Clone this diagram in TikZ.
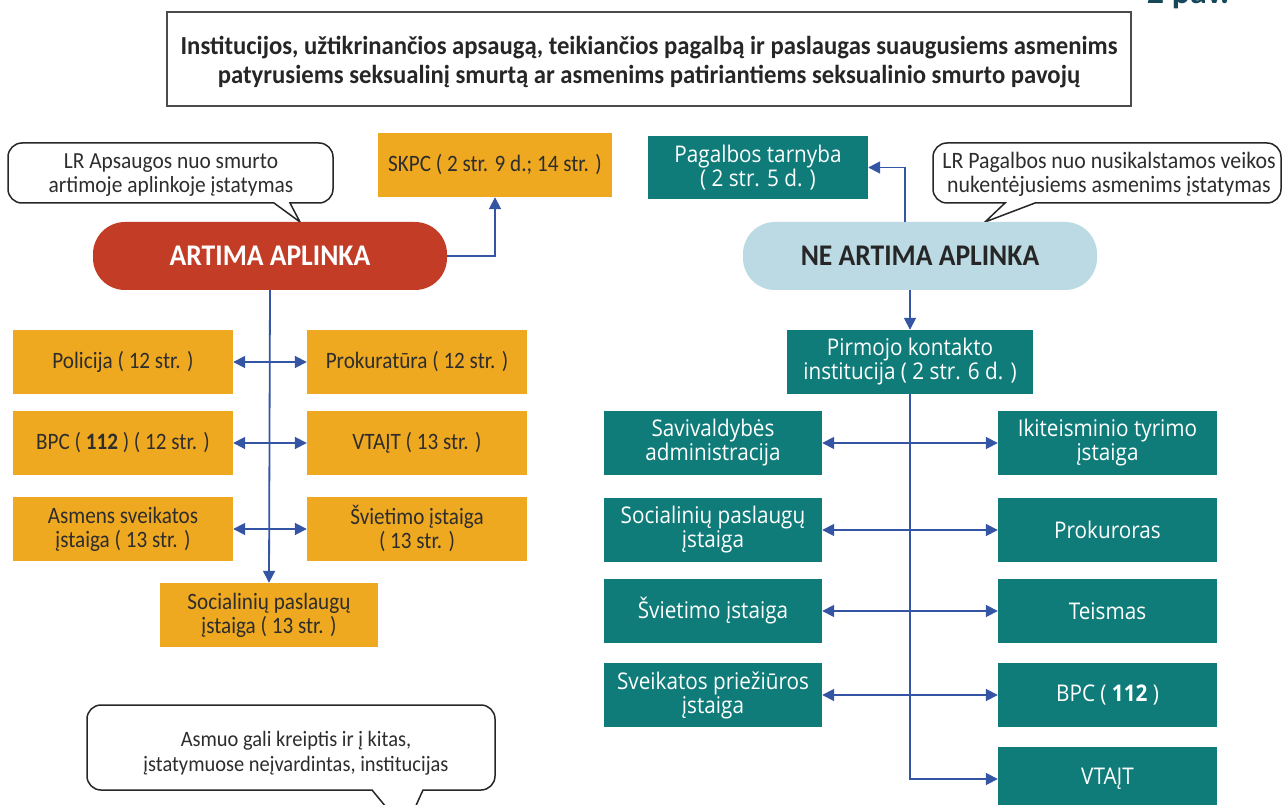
\documentclass[tikz,border=0pt]{standalone}
\usepackage{fontspec}
\setmainfont{Carlito}
\newfontfamily\tealfont[FakeStretch=0.9]{Open Sans}
\newfontfamily\orfont[FakeStretch=0.9]{Carlito}
\newfontfamily\calfont[FakeStretch=0.93]{Carlito}
\newfontfamily\pillfont[FakeStretch=0.92]{Carlito}
\newfontfamily\titlefont[FakeStretch=0.95]{Carlito}
\usetikzlibrary{arrows.meta}
\definecolor{orangeC}{RGB}{239,169,32}
\definecolor{tealC}{RGB}{16,124,121}
\definecolor{redC}{RGB}{195,61,38}
\definecolor{lblueC}{RGB}{187,218,228}
\definecolor{arrowC}{RGB}{52,84,164}
\definecolor{textdark}{RGB}{45,45,45}
\definecolor{titleC}{RGB}{22,72,90}
\tikzset{
  ob/.style={fill=orangeC, text=textdark, minimum height=64pt, inner sep=0pt, align=center, font=\orfont\fontsize{23.5}{24}\selectfont},
  tb/.style={fill=tealC, text=white, minimum height=64pt, inner sep=0pt, align=center, font=\tealfont\fontsize{23}{24}\selectfont},
  pill/.style={minimum width=354pt, minimum height=68pt, rounded corners=32pt, inner sep=0pt, font=\pillfont\bfseries\fontsize{30}{32}\selectfont},
  conn/.style={draw=arrowC, line width=1.8pt},
  tip/.style={-{Triangle[length=12pt,width=12pt]}},
  dtip/.style={{Triangle[length=12pt,width=12pt]}-{Triangle[length=12pt,width=12pt]}},
  callout/.style={draw=black!85, line width=1.5pt, fill=white},
  ctext/.style={align=center, text=textdark, inner sep=0pt}
}
\begin{document}
\begin{tikzpicture}[x=1pt,y=-1pt]
\useasboundingbox (0,0) rectangle (1283,805);
% figure label (cut off at top, as in the reference)
\node[anchor=base, text=titleC, font=\bfseries\fontsize{34}{36}\selectfont] (fig) at (1188,4) {2 pav.};
% title
\node[draw=black!70, line width=1.2pt, fill=white, minimum width=964pt, minimum height=94pt, inner sep=0pt, align=center, font=\titlefont\bfseries\fontsize{26}{29}\selectfont, text=black!85] (title) at (649,59) {};
\node[align=center, font=\titlefont\bfseries\fontsize{26}{29}\selectfont, text=black!85, inner sep=0pt] (titletext) at (649,62) {Institucijos, užtikrinančios apsaugą, teikiančios pagalbą ir paslaugas suaugusiems asmenims\\patyrusiems seksualinį smurtą ar asmenims patiriantiems seksualinio smurto pavojų};

% left callout
\draw[callout] (150,143) [rounded corners=14pt] -- (333,143) -- (333,203) [sharp corners] -- (290,203) -- (300,222) -- (274,203) [rounded corners=14pt] -- (8,203) -- (8,143) -- cycle;
\node[ctext, font=\calfont\fontsize{23}{24}\selectfont] (c1) at (171,175) {LR Apsaugos nuo smurto\\artimoje aplinkoje įstatymas};
% right callout
\draw[callout] (1100,143) [rounded corners=14pt] -- (1281,143) -- (1281,203) [sharp corners] -- (1035,203) -- (985,222) -- (1005,203) [rounded corners=14pt] -- (933,203) -- (933,143) -- cycle;
\node[ctext, font=\calfont\fontsize{23.5}{24}\selectfont] (c2) at (1109,174) {LR Pagalbos nuo nusikalstamos veikos\\nukentėjusiems asmenims įstatymas};
% bottom callout
\draw[callout] (300,705) [rounded corners=14pt] -- (495,705) -- (495,790) [sharp corners] -- (423,790) -- (405,830) -- (372,790) [rounded corners=14pt] -- (87,790) -- (87,705) -- cycle;
\node[ctext, font=\calfont\fontsize{22}{25}\selectfont] (c3) at (296,753) {Asmuo gali kreiptis ir į kitas,\\įstatymuose neįvardintas, institucijas};

% pills
\node[pill, fill=redC, text=white] (art) at (270,256) {ARTIMA APLINKA};
\node[pill, fill=lblueC, text=black!85] (neart) at (920,256) {NE ARTIMA APLINKA};

% orange boxes
\node[ob, minimum width=234pt] (skpc) at (495,165) {SKPC ( 2 str. 9 d.; 14 str. )};
\node[ob, minimum width=220pt] (pol) at (123,362) {Policija ( 12 str. )};
\node[ob, minimum width=220pt] (prok) at (417,362) {Prokuratūra ( 12 str. )};
\node[ob, minimum width=220pt] (bpcL) at (123,443) {BPC ( \textbf{112} ) ( 12 str. )};
\node[ob, minimum width=220pt] (vtajtL) at (417,443) {VTAĮT ( 13 str. )};
\node[ob, minimum width=220pt] (asm) at (123,529) {Asmens sveikatos\\įstaiga ( 13 str. )};
\node[ob, minimum width=220pt] (svL) at (417,529) {Švietimo įstaiga\\( 13 str. )};
\node[ob, minimum width=218pt] (socL) at (269,615) {Socialinių paslaugų\\įstaiga ( 13 str. )};

% teal boxes
\node[tb, minimum width=220pt, minimum height=63pt] (pag) at (758,167.5) {Pagalbos tarnyba\\( 2 str. 5 d. )};
\node[tb, minimum width=246pt] (pirm) at (910,362) {Pirmojo kontakto\\institucija ( 2 str. 6 d. )};
\node[tb, minimum width=218pt] (sav) at (713,443) {Savivaldybės\\administracija};
\node[tb, minimum width=218pt] (socR) at (713,530) {Socialinių paslaugų\\įstaiga};
\node[tb, minimum width=218pt] (svR) at (713,611) {Švietimo įstaiga};
\node[tb, minimum width=218pt] (sveik) at (713,695) {Sveikatos priežiūros\\įstaiga};
\node[tb, minimum width=219pt] (ikit) at (1107.5,443) {Ikiteisminio tyrimo\\įstaiga};
\node[tb, minimum width=219pt] (prokR) at (1107.5,530) {Prokuroras};
\node[tb, minimum width=219pt] (teis) at (1107.5,611) {Teismas};
\node[tb, minimum width=219pt] (bpcR) at (1107.5,695) {BPC ( \textbf{112} )};
\node[tb, minimum width=219pt] (vtajtR) at (1107.5,779) {VTAĮT};

% connectors left
\draw[conn, tip] (art.east) -| (skpc.south);
\draw[conn, tip] (art.south) -- (socL.north);
\draw[conn, dtip] (pol.east) -- (prok.west);
\draw[conn, dtip] (bpcL.east) -- (vtajtL.west);
\draw[conn, dtip] (asm.east) -- (svL.west);

% connectors right
\coordinate (nt) at (905,222);
\coordinate (nb) at (910,290);
\draw[conn, tip] (nt) |- (pag.east);
\draw[conn, tip] (nb) -- (pirm.north);
\draw[conn, tip] (pirm.south) |- (vtajtR.west);
\draw[conn, dtip] (sav.east) -- (ikit.west);
\draw[conn, dtip] (socR.east) -- (prokR.west);
\draw[conn, dtip] (svR.east) -- (teis.west);
\draw[conn, dtip] (sveik.east) -- (bpcR.west);
\end{tikzpicture}
\end{document}
